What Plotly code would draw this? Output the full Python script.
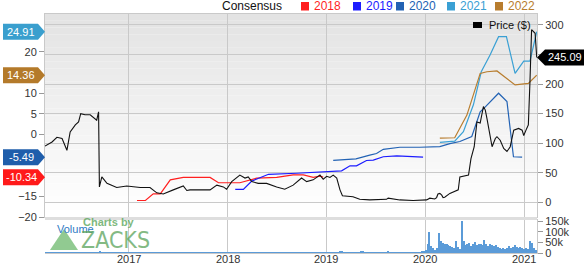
import plotly.graph_objects as go
import pandas as pd

# ---------------- data ----------------
price_dates = ["2016-02-26","2016-03-23","2016-04-10","2016-04-29","2016-05-17","2016-05-29","2016-06-17",
               "2016-06-29","2016-07-07","2016-07-23","2016-08-11","2016-08-23","2016-09-04","2016-09-11",
               "2016-09-14","2016-09-23","2016-10-12","2016-11-17","2016-12-24","2017-02-12","2017-03-20",
               "2017-04-14","2017-05-08","2017-06-14","2017-07-21","2017-08-03","2017-08-15","2017-09-09",
               "2017-10-28","2017-11-22","2017-12-16","2017-12-28","2018-01-16","2018-02-15","2018-03-06",
               "2018-03-18","2018-03-31","2018-04-24","2018-05-25","2018-07-01","2018-07-31","2018-08-31",
               "2018-10-01","2018-10-20","2018-11-13","2018-12-08","2018-12-20","2019-01-02","2019-01-08",
               "2019-01-14","2019-01-26","2019-02-08","2019-02-20","2019-03-01","2019-04-09","2019-05-04",
               "2019-06-10","2019-08-11","2019-08-17","2019-09-29","2019-11-17","2020-01-06","2020-01-18",
               "2020-02-05","2020-02-12","2020-02-17","2020-02-24","2020-03-02","2020-03-07","2020-03-13",
               "2020-04-01","2020-04-14","2020-04-19","2020-04-26","2020-05-02","2020-05-08","2020-05-26",
               "2020-06-09","2020-06-18","2020-06-30","2020-07-10","2020-07-22","2020-08-03","2020-08-10",
               "2020-08-16","2020-08-26","2020-09-04","2020-09-16","2020-09-22","2020-10-04","2020-10-17",
               "2020-10-29","2020-11-10","2020-11-23","2020-12-11","2020-12-24","2020-12-30","2021-01-10",
               "2021-01-16","2021-01-22","2021-01-28","2021-02-10","2021-02-16"]
price_values = [95,102,110,108,88,119,131,136,150,148,148,143,139,153,26,43,32,25,27.5,25,25,16,14,21,
                27.5,20,21,21,21,29,26,22,35,46,41,43,35,32,32,26,22,29,41,35,38,46,39,44,43,42,46,41,21,
                11,9.5,5,4,5,7,4,3,4,7,5.5,8,14,15,12,8,8.5,15,18,19,20,21,43,45,46,74,94,136,134,162,
                156,142,119,94,108,111,105,91,86,94,122,125,122,113,125,131,204,292,286,245.09]

c2018_dates = ["2017-01-31","2017-03-03","2017-04-01","2017-04-27","2017-06-03","2017-07-21","2017-10-28",
               "2017-11-28","2018-02-15","2018-03-13","2018-04-18","2018-07-01","2018-08-31","2018-10-08",
               "2018-11-13","2018-12-08","2018-12-20"]
c2018_values = [-16.0,-16.0,-14.4,-14.4,-11.0,-10.4,-10.4,-11.7,-11.7,-11.2,-10.6,-10.4,-9.8,-9.8,-10.4,-10.1,-10.34]

c2019_dates = ["2018-01-29","2018-02-28","2018-03-31","2018-06-01","2018-09-12","2019-01-14","2019-02-26",
               "2019-03-29","2019-04-22","2019-05-29","2019-06-23","2019-07-30","2019-09-18","2019-12-24"]
c2019_values = [-13.3,-13.3,-11.3,-9.65,-9.4,-9.0,-8.8,-7.6,-7.6,-6.3,-6.2,-5.4,-5.2,-5.5]

c2020_dates = ["2019-01-26","2019-04-20","2019-06-10","2019-07-05","2019-07-30","2019-09-29","2019-12-12",
               "2020-02-24","2020-04-01","2020-05-08","2020-06-21","2020-07-22","2020-08-10","2020-09-28",
               "2020-10-29","2020-11-22","2020-12-24"]
c2020_values = [-6.3,-5.9,-5.0,-4.6,-3.6,-3.1,-3.1,-2.95,-2.2,-1.7,-0.5,5.5,6.7,10.0,8.0,-5.4,-5.49]

c2021_dates = ["2020-02-24","2020-04-19","2020-05-21","2020-06-27","2020-07-26","2020-08-28","2020-09-28",
               "2020-10-27","2020-11-28","2020-12-30","2021-01-22","2021-02-16"]
c2021_values = [-1.9,-1.6,0.7,7.2,15.2,19.3,23.7,23.7,14.8,17.8,17.8,24.91]

c2022_dates = ["2020-02-24","2020-04-19","2020-06-03","2020-07-22","2020-08-16","2020-09-22","2020-11-28",
               "2021-01-16","2021-02-16"]
c2022_values = [-0.9,-0.8,4.7,14.8,15.2,15.4,12.0,12.4,14.36]

# weekly volume (thousands), first week ending 2016-02-26
volume_start = "2016-02-26"
volume_k = [
    # 2016
    1.2,1.0,0.9,1.1,1.3,1.0,0.8,0.9,1.2,1.0, 1.1,0.9,1.0,1.4,1.2,1.0,0.9,1.1,1.0,1.3,
    1.1,1.0,0.9,1.2,1.0,1.1,1.4,1.2,2.5,6.0, 2.8,1.8,1.5,1.3,1.2,1.1,1.0,1.2,1.1,1.0,
    0.9,1.0,1.1,0.9,1.0,
    # 2017
    1.0,0.9,1.1,1.0,0.8,0.9,1.0,1.2,1.0,0.9, 1.1,1.0,0.9,1.0,0.8,1.0,1.1,0.9,1.0,1.2,
    1.0,0.9,1.1,1.0,0.9,1.0,1.1,1.3,1.0,0.9, 1.0,1.1,0.9,1.0,0.8,0.9,1.0,1.2,1.1,1.0,
    1.0,0.9,1.1,1.5,1.2,1.0,0.9,1.0,1.1,0.9, 1.0,1.1,
    # 2018
    1.4,1.2,1.3,1.1,1.0,1.2,1.1,1.0,1.3,1.1, 1.0,1.2,1.1,1.0,0.9,1.0,1.1,1.2,1.0,0.9,
    1.0,1.1,1.0,1.2,1.1,1.0,0.9,1.0,1.1,1.0, 1.2,1.1,1.0,1.3,1.2,2.0,1.5,1.2,1.1,1.0,
    1.2,1.1,1.0,1.3,1.2,1.1,1.0,1.4,1.2,1.1, 1.0,1.2,
    # 2019
    1.5,1.3,1.2,1.4,1.6,2.0,3.0,6.5,7.0,4.5, 3.0,2.5,2.2,2.0,2.5,3.0,2.8,2.5,7.5,5.0,
    3.0,2.5,2.2,2.0,2.3,2.5,2.2,2.0,2.5,2.8, 3.0,2.5,9.5,4.0,2.5,2.2,2.0,2.5,2.2,2.0,
    2.3,2.5,2.2,2.0,2.4,3.0,2.5,4.0,3.0,2.5, 5.0,
    # 2019-12-27 onward
    8,16,40,98,35,22,14,23,93,57, 47,44,42,36,33,29,25,57,30,19,
    150,55,36,42,47,31,42,52,36,42, 40,36,62,40,31,42,36,31,36,27,
    23,20,23,20,23,31,23,27,36,27, 23,28,23,20,23,20,55,47,23,16,
]

series = [
    ("2018", c2018_dates, c2018_values, "#ff1f1f"),
    ("2019", c2019_dates, c2019_values, "#1c1cff"),
    ("2020", c2020_dates, c2020_values, "#2262b4"),
    ("2021", c2021_dates, c2021_values, "#3aa0d4"),
    ("2022", c2022_dates, c2022_values, "#b87d2e"),
]
badge_colors = {"2018": "#ff1a1a", "2020": "#1f5eab", "2021": "#3a9fce", "2022": "#b47a2a"}

x_range = ["2016-02-26", "2021-02-17"]
year_ticks = ["2017-01-01", "2018-01-01", "2019-01-01", "2020-01-01", "2021-01-01"]
year_labels = ["2017", "2018", "2019", "2020", "2021"]
eps_ticks = [-20, -15, 0, 5, 10, 20]
price_ticks = [0, 50, 100, 150, 200, 250, 300]
price_labels = ["0", "50", "100", "150", "200", "", "300"]
vol_ticks = [0, 50, 100, 150]
vol_labels = ["0", "50k", "100k", "150k"]

# ---------------- layout geometry ----------------
W, H = 585, 264
L, R, T, B = 45, 48, 14, 11
PW, PH = W - L - R, H - T - B
MAIN_BOTTOM = 217
VOL_TOP = 220
EPS_RANGE = [-20.0, 29.2]
PRICE_RANGE = [-24.9, 318.6]
VOL_RANGE = [0, 154.7]

def xp(px):
    return (px - L) / PW

def yp(py):
    return (H - B - py) / PH

MAIN_DOM = [yp(MAIN_BOTTOM), 1.0]
VOL_DOM = [0.0, yp(VOL_TOP)]

def eps_to_py(v):
    return T + (EPS_RANGE[1] - v) / (EPS_RANGE[1] - EPS_RANGE[0]) * (MAIN_BOTTOM - T)

def price_to_py(v):
    return T + (PRICE_RANGE[1] - v) / (PRICE_RANGE[1] - PRICE_RANGE[0]) * (MAIN_BOTTOM - T)

FONT = "Liberation Sans, Arial, sans-serif"

fig = go.Figure()

for name, d, v, col in series:
    fig.add_trace(go.Scatter(x=d, y=v, mode="lines", line=dict(color=col, width=1.2),
                             yaxis="y", showlegend=False, hoverinfo="skip"))

fig.add_trace(go.Scatter(x=price_dates, y=price_values, mode="lines",
                         line=dict(color="#111111", width=1.1), yaxis="y2",
                         showlegend=False, hoverinfo="skip"))

vol_dates = pd.date_range(volume_start, periods=len(volume_k), freq="7D")
fig.add_trace(go.Bar(x=vol_dates, y=volume_k, yaxis="y3", marker=dict(color="#5b9bd8", line=dict(width=0)),
                     width=4.5 * 86400000, showlegend=False, hoverinfo="skip"))

shapes = []
# gradient background of main panel
NB = 30
for i in range(NB):
    y0 = T + (MAIN_BOTTOM - T) * i / NB
    y1 = T + (MAIN_BOTTOM - T) * (i + 1) / NB
    g = int(227 + (255 - 227) * (i / (NB - 1)) ** 0.9)
    shapes.append(dict(type="rect", xref="paper", yref="paper", x0=0, x1=1, y0=yp(y1), y1=yp(y0),
                       fillcolor=f"rgb({g},{g},{g})", line=dict(width=0), layer="below"))
# separator band
shapes.append(dict(type="rect", xref="paper", yref="paper", x0=0, x1=1, y0=yp(VOL_TOP), y1=yp(MAIN_BOTTOM),
                   fillcolor="#dedede", line=dict(width=0), layer="above"))

annotations = []

def badge_left(py, color, text):
    pts = [(3, py - 8), (38, py - 8), (45, py), (38, py + 8), (3, py + 8)]
    path = "M " + " L ".join(f"{xp(a):.5f},{yp(b):.5f}" for a, b in pts) + " Z"
    shapes.append(dict(type="path", xref="paper", yref="paper", path=path, fillcolor=color,
                       line=dict(width=0), layer="above"))
    annotations.append(dict(x=xp(21), y=yp(py), xref="paper", yref="paper", text=text, showarrow=False,
                            xanchor="center", yanchor="middle",
                            font=dict(family=FONT, size=11, color="white")))

for name, d, v, col in series:
    if name in badge_colors:
        badge_left(eps_to_py(v[-1]), badge_colors[name], f"{v[-1]:.2f}")

# right price badge
pyp = price_to_py(price_values[-1])
pts = [(537, pyp), (545, pyp - 8), (584, pyp - 8), (584, pyp + 8), (545, pyp + 8)]
shapes.append(dict(type="path", xref="paper", yref="paper",
                   path="M " + " L ".join(f"{xp(a):.5f},{yp(b):.5f}" for a, b in pts) + " Z",
                   fillcolor="#000000", line=dict(width=0), layer="above"))
annotations.append(dict(x=xp(565), y=yp(pyp), xref="paper", yref="paper", text=f"{price_values[-1]:.2f}",
                        showarrow=False, xanchor="center", yanchor="middle",
                        font=dict(family=FONT, size=11, color="white")))

# x-axis year labels (placed just under the plot)
for tv, tl in zip(year_ticks, year_labels):
    annotations.append(dict(x=tv, y=yp(258.5), xref="x", yref="paper", text=tl, showarrow=False,
                            xanchor="center", yanchor="middle",
                            font=dict(family=FONT, size=11, color="#333")))

# top legend
annotations.append(dict(x=xp(252), y=yp(6.5), xref="paper", yref="paper", text="Consensus", showarrow=False,
                        xanchor="center", yanchor="middle", font=dict(family=FONT, size=12, color="#111")))
leg_x = {"2018": 301, "2019": 353, "2020": 396, "2021": 447, "2022": 495}
for name, d, v, col in series:
    x0 = leg_x[name]
    shapes.append(dict(type="rect", xref="paper", yref="paper", x0=xp(x0), x1=xp(x0 + 8),
                       y0=yp(10.5), y1=yp(2), fillcolor=col, line=dict(width=0)))
    annotations.append(dict(x=xp(x0 + 11), y=yp(6.5), xref="paper", yref="paper", text=name,
                            showarrow=False, xanchor="left", yanchor="middle",
                            font=dict(family=FONT, size=12, color=col)))
# price legend
shapes.append(dict(type="rect", xref="paper", yref="paper", x0=xp(473), x1=xp(482), y0=yp(28), y1=yp(22),
                   fillcolor="#000", line=dict(width=0)))
annotations.append(dict(x=xp(487), y=yp(25), xref="paper", yref="paper", text="Price ($)", showarrow=False,
                        xanchor="left", yanchor="middle", font=dict(family=FONT, size=11, color="#111")))

# volume label and watermark
annotations.append(dict(x=xp(55), y=yp(229), xref="paper", yref="paper", text="Volume", showarrow=False,
                        xanchor="left", yanchor="middle", font=dict(family=FONT, size=11, color="#2f7bc4")))
annotations.append(dict(x=xp(81), y=yp(222), xref="paper", yref="paper", text="<b>Charts by</b>",
                        showarrow=False, xanchor="left", yanchor="middle", opacity=0.8,
                        font=dict(family=FONT, size=11, color="#5fa85f")))
annotations.append(dict(x=xp(79), y=yp(239.5), xref="paper", yref="paper", text="ZACKS", showarrow=False,
                        xanchor="left", yanchor="middle", opacity=0.75,
                        font=dict(family="DejaVu Sans Condensed, Liberation Sans, sans-serif", size=23,
                                  color="#5aa35a")))
tri = [(50, 250), (64, 229), (78, 250)]
shapes.append(dict(type="path", xref="paper", yref="paper",
                   path="M " + " L ".join(f"{xp(a):.5f},{yp(b):.5f}" for a, b in tri) + " Z",
                   fillcolor="#6cb86c", opacity=0.75, line=dict(width=0), layer="above"))

axis_common = dict(tickfont=dict(family=FONT, size=11, color="#333"), zeroline=False, automargin=False)

fig.update_layout(
    width=W, height=H,
    margin=dict(l=L, r=R, t=T, b=B, pad=0, autoexpand=False),
    paper_bgcolor="white", plot_bgcolor="white",
    bargap=0,
    xaxis=dict(type="date", range=x_range, domain=[0, 1], anchor="y3",
               tickvals=year_ticks, ticktext=year_labels, ticks="", showticklabels=False,
               showgrid=True, gridcolor="#c9c9c9", gridwidth=1,
               showline=True, linecolor="#c9c9c9", mirror="all", **axis_common),
    yaxis=dict(domain=MAIN_DOM, range=EPS_RANGE, side="left", anchor="x",
               tickvals=eps_ticks, ticks="outside", ticklen=5, tickcolor="#999",
               showgrid=False, showline=True, linecolor="#c9c9c9", **axis_common),
    yaxis2=dict(overlaying="y", side="right", range=PRICE_RANGE, anchor="x",
                tickvals=price_ticks, ticktext=price_labels, ticks="outside", ticklen=5, tickcolor="#999",
                showgrid=True, gridcolor="#c9c9c9", showline=True, linecolor="#c9c9c9", **axis_common),
    yaxis3=dict(domain=VOL_DOM, range=VOL_RANGE, side="right", anchor="x",
                tickvals=vol_ticks, ticktext=vol_labels, ticks="outside", ticklen=5, tickcolor="#999",
                showgrid=False, showline=True, linecolor="#c9c9c9", **axis_common),
    shapes=shapes,
    annotations=annotations,
)

fig.write_html("out.html")
